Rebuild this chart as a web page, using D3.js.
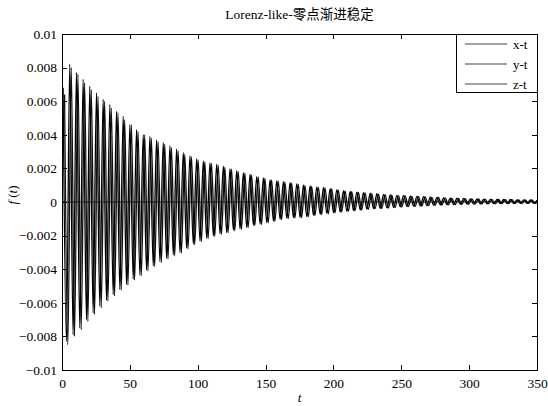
<!DOCTYPE html>
<html>
<head>
<meta charset="utf-8">
<script src="https://cdn.jsdelivr.net/npm/d3@7"></script>
<style>
    body { margin: 0; background: #fff; }
    text { font-family: "Liberation Serif", "Times New Roman", "Noto Sans CJK SC", serif; }
</style>
</head>
<body>
<div id="chart"></div>
<script>
// values, in units of 1e-4
const unit = 1e-4
const period = 4.92

// x-t: positive peaks and negative troughs (magnitudes), one per oscillation
const xPeakStart = 0.8
const xPeaks = [68, 82, 77, 73, 69, 65, 61, 58, 54, 51,
    46, 43, 40, 39, 37, 35.5, 33.5, 31.5, 29.5, 27.5,
    25.8, 24.5, 23.4, 22.5, 21.3, 19.8, 18.6, 17.5, 16.6, 15.1,
    14.3, 13.2, 12.6, 12.1, 11.5, 10.8, 10.0, 9.6, 9.0, 8.7,
    8.0, 7.3, 6.8, 6.3, 5.9, 5.5, 5.2, 4.9, 4.5, 4.3,
    3.9, 3.9, 3.5, 3.3, 3.2, 2.9, 2.8, 2.5, 2.3, 2.3,
    2.1, 1.9, 1.9, 1.7, 1.7, 1.5, 1.5, 1.5, 1.3, 1.3,
    1.3, 1.1]
const xTroughStart = 3.26
const xTroughs = [83, 79, 75, 70, 66, 62, 58.5, 55, 52, 49,
    46, 43.5, 40.5, 38, 35.5, 33.5, 31.5, 30, 27.5, 25,
    23.2, 21.5, 20.2, 19, 18.2, 16.8, 16, 15.2, 13.8, 13.1,
    12.2, 11.3, 10.2, 9.6, 9.3, 9.2, 8.6, 8.0, 7.3, 6.8,
    6.3, 5.9, 5.5, 5.1, 4.7, 4.3, 4.0, 3.8, 3.5, 3.2,
    2.9, 2.7, 2.5, 2.3, 2.1, 1.9, 1.7, 1.6, 1.5, 1.4,
    1.3, 1.2, 1.1, 1.1, 1.0, 1.0, 0.9, 0.9, 0.8, 0.8, 0.8]

// y-t: nearly on top of x-t, a little behind it
const yPeakStart = 1.9
const yPeaks = [64, 80, 76, 71, 67, 63, 60, 56, 53, 49,
    46, 42, 40, 38, 36, 34.5, 32.5, 30.5, 28.5, 27,
    25.2, 24, 23, 22, 20.8, 19.5, 18.2, 17.2, 16.2, 15,
    14, 13, 12.4, 11.8, 11.2, 10.5, 9.8, 9.3, 8.8, 8.4,
    7.8, 7.1, 6.6, 6.1, 5.7, 5.4, 5.0, 4.7, 4.4, 4.1,
    3.8, 3.7, 3.4, 3.2, 3.0, 2.8, 2.7, 2.4, 2.2, 2.2,
    2.0, 1.9, 1.8, 1.7, 1.6, 1.5, 1.4, 1.4, 1.3, 1.2,
    1.2, 1.1]
const yTroughStart = 4.3
const yTroughs = [85, 80, 76, 71, 67, 63, 59, 56, 52.5, 49.5,
    46.5, 44, 41, 38.5, 36, 34, 32, 30.5, 28, 25.5,
    23.6, 22, 20.6, 19.4, 18.4, 17.2, 16.3, 15.4, 14.1, 13.4,
    12.5, 11.6, 10.5, 9.9, 9.5, 9.3, 8.8, 8.2, 7.5, 7.0,
    6.5, 6.0, 5.6, 5.2, 4.8, 4.4, 4.1, 3.9, 3.6, 3.3,
    3.0, 2.8, 2.6, 2.4, 2.2, 2.0, 1.8, 1.7, 1.6, 1.5,
    1.4, 1.3, 1.2, 1.1, 1.1, 1.0, 1.0, 0.9, 0.9, 0.8, 0.8]

// z-t dies out almost at once and stays on zero
const zTimes = [0, 1, 2, 3, 5, 350]
const zValues = [0.4, 0.3, 0.15, 0.05, 0, 0]

const xTicks = [0, 50, 100, 150, 200, 250, 300, 350]
const yTicks = [-0.01, -0.008, -0.006, -0.004, -0.002, 0, 0.002, 0.004, 0.006, 0.008, 0.01]
const legendNames = ["x-t", "y-t", "z-t"]

function buildSeries(peaks, troughs, peakStart, troughStart) {
    const pts = []
    peaks.forEach((v, i) => pts.push({ t: peakStart + i * period, v: v * unit }))
    troughs.forEach((v, i) => pts.push({ t: troughStart + i * period, v: -v * unit }))
    return pts.sort((a, b) => a.t - b.t)
}

const seriesX = buildSeries(xPeaks, xTroughs, xPeakStart, xTroughStart)
const seriesY = buildSeries(yPeaks, yTroughs, yPeakStart, yTroughStart)
const seriesZ = zTimes.map((t, i) => ({ t: t, v: zValues[i] * unit }))

// set the dimensions and margins of the graph
const margin = { top: 34, right: 11, bottom: 36, left: 62 },
    width = 548 - margin.left - margin.right,
    height = 406 - margin.top - margin.bottom;

const svg = d3.select("#chart")
    .append("svg")
    .attr("width", 548)
    .attr("height", 406)
    .style("background", "#fff")
    .append("g")
    .attr("transform", "translate(" + margin.left + "," + margin.top + ")");

const x = d3.scaleLinear().domain([0, 350]).range([0, width])
const y = d3.scaleLinear().domain([-0.01, 0.01]).range([height, 0])

svg.append("clipPath").attr("id", "clip")
    .append("rect").attr("width", width).attr("height", height)

const line = d3.line()
    .x(d => x(d.t))
    .y(d => y(d.v))
    .curve(d3.curveMonotoneX)

const plot = svg.append("g").attr("clip-path", "url(#clip)")
plot.append("path").datum(seriesZ)
    .attr("d", line).attr("fill", "none").attr("stroke", "#333").attr("stroke-width", 1)
plot.append("path").datum(seriesY)
    .attr("d", line).attr("fill", "none").attr("stroke", "#111").attr("stroke-width", 1.3)
plot.append("path").datum(seriesX)
    .attr("d", line).attr("fill", "none").attr("stroke", "#000").attr("stroke-width", 1.3)

const fmt = d => d === 0 ? "0" : (d < 0 ? "\u2212" : "") + String(Math.abs(d))

// axes, ticks pointing inward on all four sides
const gx = svg.append("g")
    .attr("transform", `translate(0, ${height})`)
    .call(d3.axisBottom(x).tickValues(xTicks).tickSizeInner(-5).tickSizeOuter(0).tickPadding(8))
const gy = svg.append("g")
    .call(d3.axisLeft(y).tickValues(yTicks).tickFormat(fmt).tickSizeInner(-5).tickSizeOuter(0).tickPadding(5))
const gt = svg.append("g")
    .call(d3.axisTop(x).tickValues(xTicks).tickFormat("").tickSizeInner(-5).tickSizeOuter(0))
const gr = svg.append("g")
    .attr("transform", `translate(${width}, 0)`)
    .call(d3.axisRight(y).tickValues(yTicks).tickFormat("").tickSizeInner(-5).tickSizeOuter(0))

;[gx, gy, gt, gr].forEach(g => {
    g.selectAll("path, line").attr("stroke", "#000").attr("shape-rendering", "crispEdges")
    g.selectAll("text").attr("font-size", 13.5).attr("fill", "#000")
        .style("font-family", '"Liberation Serif", serif')
})

// legend in the top right corner
const lg = svg.append("g").attr("transform", `translate(${width - 81}, 0)`)
lg.append("rect")
    .attr("width", 81).attr("height", 58)
    .attr("fill", "#fff").attr("stroke", "#000").attr("shape-rendering", "crispEdges")
legendNames.forEach((name, i) => {
    const ly = 10 + i * 20
    lg.append("line")
        .attr("x1", 9).attr("x2", 51).attr("y1", ly).attr("y2", ly)
        .attr("stroke", "#444").attr("stroke-width", 1)
    lg.append("text")
        .attr("x", 57).attr("y", ly).attr("dy", "0.35em")
        .attr("font-size", 13).text(name)
})

// title and axis labels
svg.append("text")
    .attr("x", width / 2).attr("y", -15)
    .attr("text-anchor", "middle").attr("font-size", 13.5)
    .text("Lorenz-like-零点渐进稳定")

svg.append("text")
    .attr("x", width / 2).attr("y", height + 32)
    .attr("text-anchor", "middle").attr("font-size", 13)
    .attr("font-style", "italic")
    .text("t")

const yl = svg.append("text")
    .attr("transform", `translate(-45, ${y(0) - 7}) rotate(-90)`)
    .attr("text-anchor", "middle").attr("font-size", 13)
yl.append("tspan").attr("font-style", "italic").text("f")
yl.append("tspan").text(" (")
yl.append("tspan").attr("font-style", "italic").text("t")
yl.append("tspan").text(")")
</script>
</body>
</html>
